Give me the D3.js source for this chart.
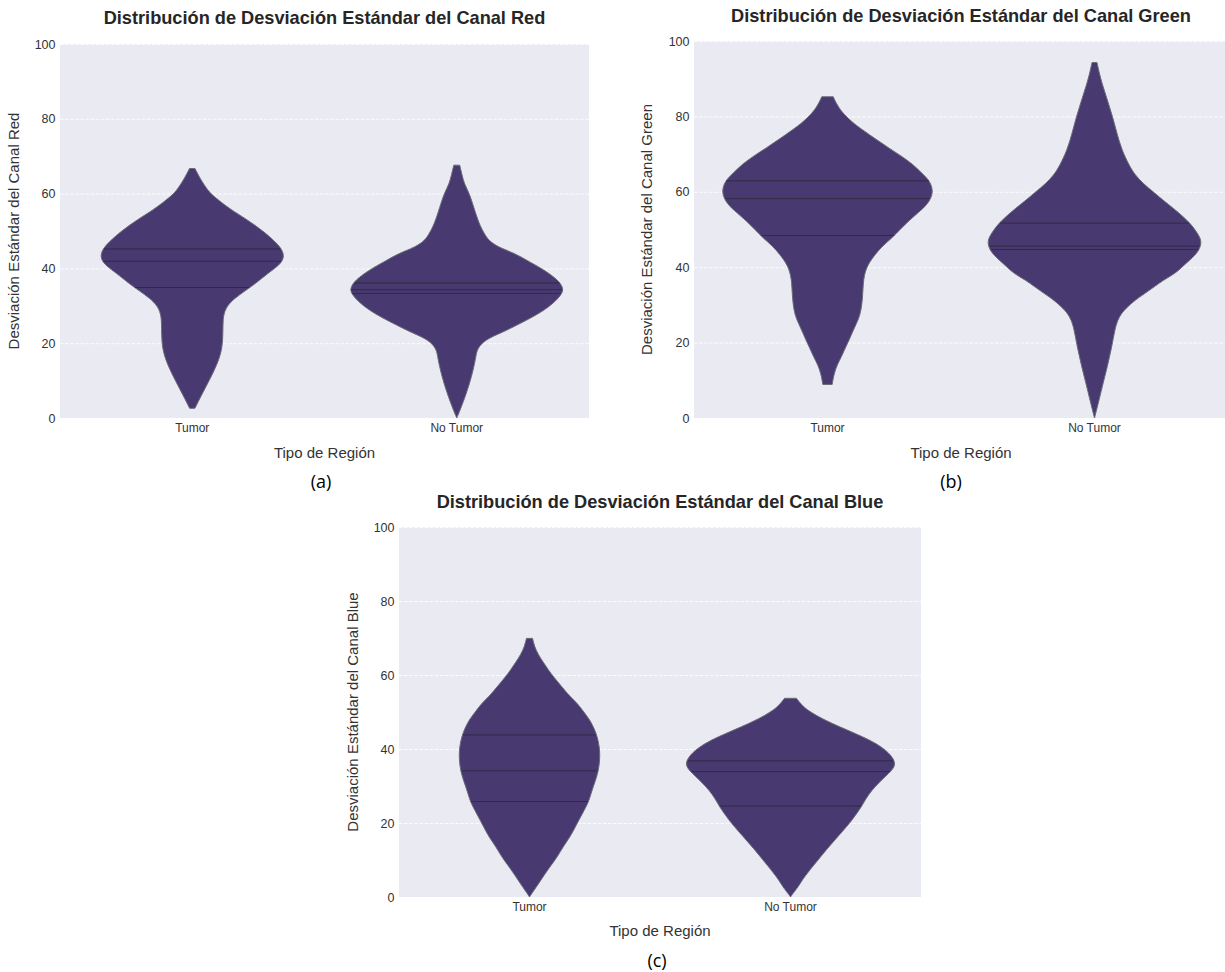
<!DOCTYPE html>
<html lang="es">
<head>
<meta charset="utf-8">
<title>Desviación Estándar por Canal</title>
<script src="https://cdn.jsdelivr.net/npm/d3@7"></script>
<style>
  html, body { margin: 0; padding: 0; background: #ffffff; }
  svg { display: block; }
  text { font-family: "Liberation Sans", Arial, sans-serif; }
</style>
</head>
<body>
<svg id="fig" width="1225" height="972"></svg>
<script>
// Categories and axis ticks
const categories = ["Tumor", "No Tumor"];
const yTicks = [0, 20, 40, 60, 80, 100];

// Violin profiles: [value, relative density (1 = full violin width)]
const redTumor = [[66.7,0.026],[64,0.075],[62,0.12],[60,0.17],[58,0.26],[56,0.35],[53,0.52],[50,0.67],[47,0.79],[45,0.85],[43,0.87],[41,0.83],[38.6,0.71],[36,0.6],[34,0.5],[32,0.4],[30,0.33],[28,0.3],[26,0.29],[22,0.29],[18,0.28],[14,0.23],[10,0.16],[6,0.085],[2.6,0.025]];
const redNoTumor = [[67.6,0.028],[65,0.05],[62.7,0.07],[60,0.12],[56.4,0.16],[52,0.21],[49.3,0.26],[47.5,0.3],[45.7,0.39],[44,0.55],[42.2,0.66],[40,0.8],[38.5,0.88],[36.5,0.97],[34.5,1.01],[33,0.99],[30.6,0.91],[28.7,0.82],[26.9,0.71],[25,0.58],[23,0.44],[21,0.27],[18.5,0.19],[16,0.18],[11,0.14],[6.5,0.09],[2,0.03],[0,0.0]];
const greenTumor = [[85.2,0.054],[83,0.09],[80.6,0.15],[78,0.25],[76.2,0.34],[74,0.45],[71.7,0.57],[69.5,0.69],[67.3,0.8],[65,0.88],[62.9,0.96],[59.8,0.995],[56.7,0.94],[54.5,0.85],[52.3,0.76],[50,0.68],[47.9,0.61],[45.5,0.51],[43.5,0.45],[40.5,0.37],[37,0.335],[32,0.33],[27.6,0.31],[25,0.27],[23.2,0.24],[20.5,0.2],[18.8,0.17],[16.2,0.13],[14.4,0.095],[11.7,0.06],[8.9,0.044]];
const greenNoTumor = [[94.3,0.023],[91.5,0.045],[88.8,0.07],[84.4,0.12],[79.9,0.17],[75.5,0.21],[71.1,0.255],[66.7,0.33],[64.5,0.38],[62.2,0.455],[60,0.55],[57.8,0.64],[55.6,0.74],[53.4,0.83],[51.5,0.9],[49.6,0.95],[47.8,0.99],[46.3,1.0],[44.6,0.98],[42.8,0.93],[40.1,0.82],[38.4,0.76],[36.5,0.64],[34.8,0.56],[33,0.47],[31.3,0.38],[29,0.29],[26.9,0.23],[24.5,0.2],[22.5,0.185],[18,0.155],[13.6,0.12],[9.2,0.08],[4.8,0.043],[0,0.0]];
const blueTumor = [[69.9,0.029],[67.5,0.05],[65.5,0.085],[63.5,0.13],[61.4,0.18],[59.5,0.23],[56.8,0.31],[54.1,0.39],[52.3,0.46],[50,0.52],[47.8,0.58],[45.5,0.62],[43.3,0.65],[40.5,0.67],[37.9,0.675],[35,0.665],[32.5,0.645],[29.8,0.61],[27.1,0.58],[25.3,0.56],[21.7,0.49],[19,0.44],[16.3,0.39],[13.5,0.32],[11,0.27],[8.5,0.205],[5.5,0.13],[3.7,0.09],[1.5,0.035],[0,0.0]];
const blueNoTumor = [[53.7,0.057],[52.5,0.09],[51,0.14],[49.5,0.22],[47.8,0.33],[46,0.47],[44.2,0.62],[42.4,0.76],[40.6,0.87],[38.5,0.96],[36.1,1.01],[34.3,0.975],[32.5,0.905],[30.7,0.84],[28.9,0.78],[26.5,0.72],[24.4,0.68],[22,0.62],[19.9,0.565],[17.5,0.49],[15.4,0.425],[13,0.35],[10.9,0.29],[8.5,0.22],[6.4,0.16],[4.5,0.11],[2.8,0.075],[1.2,0.03],[0,0.0]];

// Quartiles [Q1, median, Q3]
const redTumorQuart = [34.9, 41.9, 45.2];
const redNoTumorQuart = [33.3, 34.3, 36.1];
const greenTumorQuart = [48.4, 58.2, 62.9];
const greenNoTumorQuart = [44.7, 45.6, 51.7];
const blueTumorQuart = [25.8, 34.1, 43.8];
const blueNoTumorQuart = [24.6, 33.9, 36.8];

// Panel layout
const panels = [
  { canal: "Red", caption: "(a)", left: 60, right: 589, top: 44, bottom: 418,
    titleY: 24, tickY: 5, xLabelY: 458, yLabelX: 14, captionX: 321, captionY: 488,
    profiles: [redTumor, redNoTumor], quarts: [redTumorQuart, redNoTumorQuart] },
  { canal: "Green", caption: "(b)", left: 694, right: 1228, top: 41, bottom: 418,
    titleY: 22, tickY: 5, xLabelY: 458, yLabelX: 647, captionX: 951, captionY: 488,
    profiles: [greenTumor, greenNoTumor], quarts: [greenTumorQuart, greenNoTumorQuart] },
  { canal: "Blue", caption: "(c)", left: 399, right: 921, top: 527, bottom: 897,
    titleY: 508, tickY: 5, xLabelY: 936, yLabelX: 353, captionX: 657, captionY: 967,
    profiles: [blueTumor, blueNoTumor], quarts: [blueTumorQuart, blueNoTumorQuart] }
];

const violinFill = "#483a70";
const violinEdge = "#6c6a78";
const quartColor = "#2c2838";
const bg = "#eaeaf2";

const svg = d3.select("#fig");

// Linear interpolation of the density profile at a given value
function densityAt(profile, v) {
  const pts = profile.slice().sort((a, b) => a[0] - b[0]);
  if (v <= pts[0][0]) return pts[0][1];
  if (v >= pts[pts.length - 1][0]) return pts[pts.length - 1][1];
  for (let i = 1; i < pts.length; i++) {
    if (v <= pts[i][0]) {
      const t = (v - pts[i - 1][0]) / (pts[i][0] - pts[i - 1][0]);
      return pts[i - 1][1] + t * (pts[i][1] - pts[i - 1][1]);
    }
  }
  return 0;
}

panels.forEach((p, pi) => {
  const g = svg.append("g");
  const clipId = "clip" + pi;
  svg.append("clipPath").attr("id", clipId)
    .append("rect").attr("x", p.left).attr("y", p.top - 2)
    .attr("width", p.right - p.left).attr("height", p.bottom - p.top + 4);

  const x = d3.scaleBand().domain(categories).range([p.left, p.right]).padding(0);
  const y = d3.scaleLinear().domain([0, 100]).range([p.bottom, p.top]);
  const w = d3.scaleLinear().domain([0, 1]).range([0, x.bandwidth() * 0.4]);

  // Plot background
  g.append("rect")
    .attr("x", p.left).attr("y", p.top)
    .attr("width", p.right - p.left).attr("height", p.bottom - p.top)
    .attr("fill", bg);

  // Horizontal dashed grid
  const grid = g.append("g")
    .attr("transform", `translate(${p.left},0)`)
    .call(d3.axisLeft(y).tickValues(yTicks).tickSize(-(p.right - p.left)).tickFormat(""));
  grid.select(".domain").remove();
  grid.selectAll("line")
    .attr("stroke", "#ffffff").attr("stroke-width", 1)
    .attr("stroke-dasharray", "3.5,1.6").attr("opacity", 0.85);

  // Violins
  const vg = g.append("g").attr("clip-path", `url(#${clipId})`);
  categories.forEach((cat, ci) => {
    const cx = x(cat) + x.bandwidth() / 2;
    const prof = p.profiles[ci];
    const area = d3.area()
      .y(d => y(d[0]))
      .x0(d => cx - w(d[1]))
      .x1(d => cx + w(d[1]))
      .curve(d3.curveBasis);
    vg.append("path")
      .datum(prof)
      .attr("d", area)
      .attr("fill", violinFill)
      .attr("stroke", violinEdge)
      .attr("stroke-width", 1);

    p.quarts[ci].forEach(q => {
      const hw = w(densityAt(prof, q)) * 0.99;
      vg.append("line")
        .attr("x1", cx - hw).attr("x2", cx + hw)
        .attr("y1", y(q)).attr("y2", y(q))
        .attr("stroke", quartColor).attr("stroke-width", 0.9)
        .attr("opacity", 0.9);
    });
  });

  // Y axis
  const yAxis = g.append("g")
    .attr("transform", `translate(${p.left},0)`)
    .call(d3.axisLeft(y).tickValues(yTicks).tickSize(0).tickPadding(4.5));
  yAxis.select(".domain").remove();
  yAxis.selectAll("text")
    .attr("fill", "#333333").style("font-size", "12.5px")
    .style("font-family", "'Liberation Sans', Arial, sans-serif");

  // X axis
  const xAxis = g.append("g")
    .attr("transform", `translate(0,${p.bottom})`)
    .call(d3.axisBottom(x).tickSize(0).tickPadding(p.tickY));
  xAxis.select(".domain").remove();
  xAxis.selectAll("text")
    .attr("fill", "#333333").style("font-size", "12px")
    .style("font-family", "'Liberation Sans', Arial, sans-serif");

  const midX = (p.left + Math.min(p.right, 1228)) / 2;
  const midY = (p.top + p.bottom) / 2;

  // Title
  g.append("text")
    .attr("x", midX).attr("y", p.titleY)
    .attr("text-anchor", "middle")
    .attr("fill", "#262626")
    .style("font-size", "18.2px").style("font-weight", "bold")
    .text(`Distribución de Desviación Estándar del Canal ${p.canal}`);

  // Axis labels
  g.append("text")
    .attr("x", midX).attr("y", p.xLabelY)
    .attr("text-anchor", "middle")
    .attr("fill", "#333333")
    .style("font-size", "15px")
    .text("Tipo de Región");

  g.append("text")
    .attr("transform", `translate(${p.yLabelX},${midY}) rotate(-90)`)
    .attr("text-anchor", "middle")
    .attr("dy", "0.35em")
    .attr("fill", "#333333")
    .style("font-size", "15px")
    .text(`Desviación Estándar del Canal ${p.canal}`);

  // Sub-figure caption
  svg.append("text")
    .attr("x", p.captionX).attr("y", p.captionY)
    .attr("text-anchor", "middle")
    .attr("fill", "#000000")
    .style("font-family", "'Open Sans', 'Noto Sans', sans-serif")
    .style("font-size", "18px")
    .text(p.caption);
});
</script>
</body>
</html>
